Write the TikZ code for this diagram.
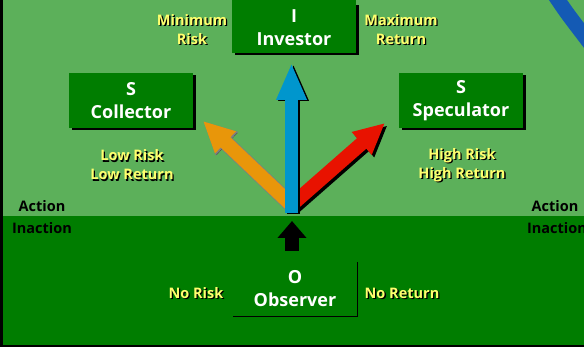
\documentclass[tikz,border=0pt]{standalone}
\usepackage{fontspec}
\setmainfont{Open Sans}
\usetikzlibrary{arrows.meta,positioning,shadows}
\definecolor{fieldlight}{RGB}{92,176,90}
\definecolor{fielddark}{RGB}{0,125,0}
\definecolor{tagyellow}{RGB}{255,255,110}
\definecolor{arrblue}{RGB}{0,150,205}
\definecolor{arrorange}{RGB}{232,150,10}
\definecolor{arrred}{RGB}{232,18,0}
\definecolor{stripeblue}{RGB}{20,90,180}

\tikzset{
  rolebox/.style={fill=fielddark, text=white, align=center,
    font=\fontsize{18}{23}\selectfont\bfseries,
    minimum width=124pt, minimum height=55pt, inner sep=0pt,
    drop shadow={shadow xshift=2.5pt, shadow yshift=-2.5pt, fill=black, opacity=1}},
  plainbox/.style={text=white, align=center,
    font=\fontsize{18}{23}\selectfont\bfseries,
    minimum width=124pt, minimum height=54pt, inner sep=0pt},
  tagtext/.style={text=tagyellow, align=center, inner sep=0pt,
    font=\fontsize{14.5}{19}\selectfont\bfseries},
  tagshadow/.style={tagtext, text=black, xshift=1.3pt, yshift=-1.3pt},
  sidetext/.style={font=\fontsize{14.5}{19}\selectfont\bfseries, inner sep=0pt},
  fatarrow/.style={line width=14pt, -{Triangle[width=28pt,length=31pt]}},
}

\begin{document}
\begin{tikzpicture}[x=1pt,y=-1pt]
\useasboundingbox (0,0) rectangle (584,347);

% field: action above, inaction below
\fill[fieldlight] (0,0) rectangle (584,216);
\fill[fielddark] (0,216) rectangle (584,347);
\draw[stripeblue, line width=15pt] (554,-6) .. controls (566,12) .. (592,46);
\fill[black] (0,0) rectangle (2.5,347);
\fill[black] (0,345) rectangle (584,347);

% role boxes
\node[rolebox] (collector) at (131,100.5) {S\\Collector};
\node[rolebox] (speculator) at (461,100.5) {S\\Speculator};
\node[rolebox, minimum height=50pt] (investor) at (294,28) {I\\Investor};
\fill[fielddark] (investor.north west) rectangle ([yshift=4pt]investor.north east);
\node[plainbox] (observer) at (295,289) {O\\Observer};
\draw[line width=1pt] (observer.north east) -- (observer.south east)
  -- (observer.south west);

% arrows out of the fork
\coordinate (fork) at (291.5,205);
\coordinate (hub) at (291.5,213);
\coordinate (collector-tip) at (203,121);
\coordinate (speculator-tip) at (385,123);
\coordinate (investor-tip) at (291.5,63);

\draw[fatarrow, black, transform canvas={xshift=1.5pt,yshift=-1.5pt}]
  (fork) -- (collector-tip);
\draw[fatarrow, gray, line width=15.5pt, -{Triangle[width=30pt,length=33pt]}]
  (fork) -- (collector-tip);
\draw[fatarrow, arrorange] (fork) -- (collector-tip);

\draw[fatarrow, black, transform canvas={xshift=2.5pt,yshift=-2.5pt}]
  (fork) -- (speculator-tip);
\draw[fatarrow, arrred] (fork) -- (speculator-tip);

\draw[fatarrow, black, line width=13pt, -{Triangle[width=28pt,length=37pt]},
  transform canvas={xshift=2pt,yshift=-1pt}] (hub) -- (investor-tip);
\draw[fatarrow, arrblue, line width=13pt, -{Triangle[width=28pt,length=37pt]}]
  (hub) -- (investor-tip);

% observer push
\coordinate (observer-arrow) at (292,251);
\coordinate (hub-below) at (292,221);
\draw[fatarrow, black, -{Triangle[width=28pt,length=17pt]}]
  (observer-arrow) -- (hub-below);

% risk and return tags
\foreach \n/\p/\t in {minrisk/{192,29.5}/{Minimum\\Risk},
    maxreturn/{401,29.5}/{Maximum\\Return},
    lowrisk/{132,165}/{Low Risk\\Low Return},
    highrisk/{462,165}/{High Risk\\High Return},
    norisk/{196,293}/{No Risk},
    noreturn/{402,293}/{No Return}} {
  \node[tagshadow] at (\p) {\t};
  \node[tagtext] (\n) at (\p) {\t};
}

\node[sidetext] (action-l) at (42,206) {Action};
\node[sidetext] (inaction-l) at (42,228) {Inaction};
\node[sidetext] (action-r) at (555,206) {Action};
\node[sidetext] (inaction-r) at (557,228) {Inaction};

\end{tikzpicture}
\end{document}
